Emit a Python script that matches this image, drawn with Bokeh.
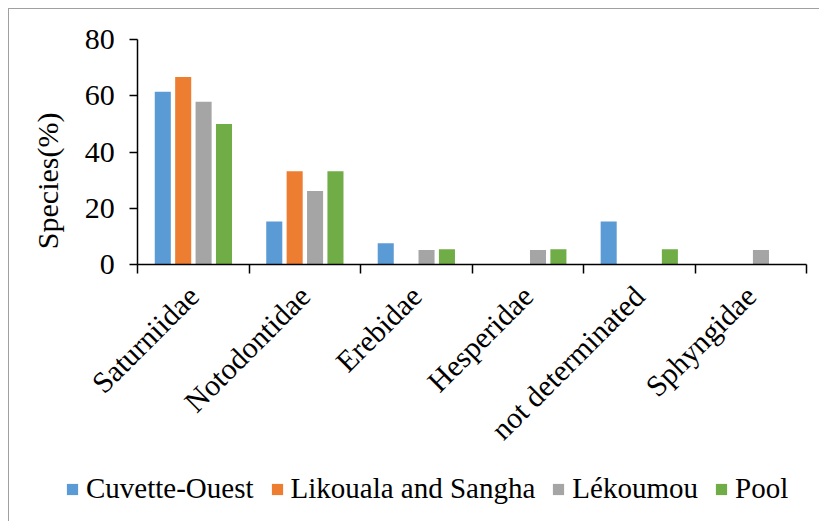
import math
from bokeh.plotting import figure
from bokeh.models import (ColumnDataSource, FixedTicker, Legend, LegendItem, Label,
                          Range1d, CustomJSTickFormatter)
from bokeh.embed import file_html
from bokeh.resources import INLINE

families = ["Saturniidae", "Notodontidae", "Erebidae", "Hesperidae",
            "not determinated", "Sphyngidae"]
series = ["Cuvette-Ouest", "Likouala and Sangha", "Lékoumou", "Pool"]
cuvette_ouest = [61.5, 15.4, 7.7, 0.0, 15.4, 0.0]
likouala_sangha = [66.7, 33.3, 0.0, 0.0, 0.0, 0.0]
lekoumou = [57.9, 26.3, 5.3, 5.3, 0.0, 5.3]
pool = [50.0, 33.3, 5.6, 5.6, 5.6, 0.0]
y_ticks = [0, 20, 40, 60, 80]
y_title = "Species(%)"

colors = ["#5B9BD5", "#ED7D31", "#A5A5A5", "#70AD47"]
FONT = "Liberation Serif"
FS = "30px"
LFS = "29px"

# layout (page pixels)
W, H = 811, 513
CL, CT = 9, 9                  # canvas content origin on the page
CW, CH = W - 1, H - 1          # canvas content size
AX_L, AX_R = 137, 805          # x-axis extent
AX_T, AX_B = 39, 264           # y-axis extent
ncat = len(families)
ymax = y_ticks[-1]
ux = (AX_R - AX_L) / ncat
uy = (AX_B - AX_T) / ymax
x_range = Range1d((CL - AX_L) / ux, (CL + CW - AX_L) / ux)
y_range = Range1d(-(CT + CH - AX_B) / uy, ymax + (AX_T - CT) / uy)

p = figure(width=W, height=H, output_backend="svg", toolbar_location=None,
           x_range=x_range, y_range=y_range,
           min_border_left=0, min_border_top=0, min_border_right=0, min_border_bottom=0)
p.outline_line_color = None
p.xgrid.grid_line_color = None
p.ygrid.grid_line_color = None
p.background_fill_color = "white"
p.border_fill_color = "white"
p.styles = {"margin-left": "8px", "margin-top": "8px",
            "border-top": "1px solid #A0A0A0", "border-left": "1px solid #A0A0A0"}

step = 0.183
bw = 0.144
renderers = []
for k, vals in enumerate([cuvette_ouest, likouala_sangha, lekoumou, pool]):
    off = (k - 1.5) * step
    src = ColumnDataSource(dict(x=[j + 0.5 + off for j in range(ncat)], top=vals))
    r = p.vbar(x="x", top="top", width=bw, source=src, fill_color=colors[k], line_color=None)
    renderers.append(r)

# x axis
xa = p.xaxis[0]
xa.fixed_location = 0
xa.bounds = (0, ncat)
xa.ticker = FixedTicker(ticks=[j + 0.5 for j in range(ncat)],
                        minor_ticks=list(range(ncat + 1)))
xa.formatter = CustomJSTickFormatter(args=dict(names=families),
                                     code="return names[Math.floor(tick)]")
xa.major_label_orientation = math.pi / 4
xa.major_tick_out = 0
xa.major_tick_in = 0
xa.minor_tick_out = 9
xa.minor_tick_in = 0
xa.minor_tick_line_color = "black"
xa.minor_tick_line_width = 1.5
xa.axis_line_color = "black"
xa.axis_line_width = 1.5
xa.major_label_standoff = 17
xa.major_label_text_font = FONT
xa.major_label_text_font_size = FS
xa.major_label_text_color = "black"

# y axis
ya = p.yaxis[0]
ya.fixed_location = 0
ya.bounds = (0, ymax)
ya.ticker = FixedTicker(ticks=y_ticks, minor_ticks=[])
ya.major_tick_out = 8
ya.major_tick_in = 0
ya.major_tick_line_color = "black"
ya.major_tick_line_width = 1.5
ya.minor_tick_line_color = None
ya.axis_line_color = "black"
ya.axis_line_width = 1.5
ya.major_label_standoff = 15
ya.major_label_text_font = FONT
ya.major_label_text_font_size = FS
ya.major_label_text_color = "black"

ylab = Label(x=(47 - AX_L) / ux, y=(AX_B - 180) / uy, text=y_title, angle=math.pi / 2,
             text_align="center", text_baseline="middle", text_font=FONT,
             text_font_size=FS, text_color="black")
p.add_layout(ylab)

legend = Legend(items=[LegendItem(label=s, renderers=[r]) for s, r in zip(series, renderers)],
                orientation="horizontal", location=(65 - CL, CT + CH - 504),
                glyph_width=14, glyph_height=14, label_standoff=7, spacing=16,
                padding=0, margin=0, border_line_color=None, background_fill_alpha=0,
                label_text_font=FONT, label_text_font_size=LFS, label_text_color="black")
p.add_layout(legend, "center")

open("out.html", "w").write(file_html(p, INLINE))
